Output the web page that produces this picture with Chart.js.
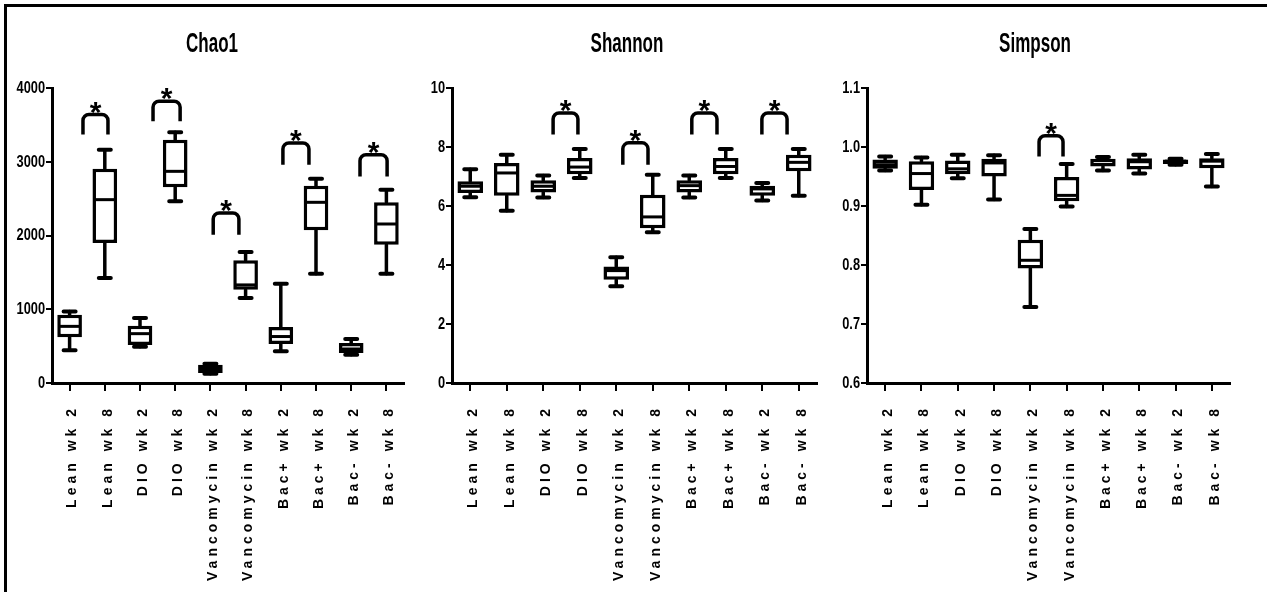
<!DOCTYPE html>
<html>
<head>
<meta charset="utf-8">
<script src="https://cdn.jsdelivr.net/npm/chart.js@4.4.1/dist/chart.umd.min.js"></script>
<style>
  html, body { margin: 0; padding: 0; background: #fff; overflow: hidden; }
  body { width: 1267px; height: 592px; position: relative; }
  #frame { position: absolute; left: 4px; top: 4px; right: -10px; bottom: -10px; border-top: 3px solid #000; border-left: 3px solid #000; }
  .panel { position: absolute; top: 8px; height: 584px; }
</style>
</head>
<body>
<div id="frame"></div>
<div class="panel" style="left:8px;width:400px"><canvas id="chao1"></canvas></div>
<div class="panel" style="left:420px;width:401px"><canvas id="shannon"></canvas></div>
<div class="panel" style="left:830px;width:404px"><canvas id="simpson"></canvas></div>
<script>
// groups on the x axis
const categories = ['Lean wk 2', 'Lean wk 8', 'DIO wk 2', 'DIO wk 8', 'Vancomycin wk 2', 'Vancomycin wk 8',
                    'Bac+ wk 2', 'Bac+ wk 8', 'Bac- wk 2', 'Bac- wk 8'];

// Chao1 box stats (min, q1, median, q3, max)
const chaoMin = [443, 1424, 490, 2463, 127, 1153, 429, 1482, 384, 1482];
const chaoQ1  = [619, 1898, 515, 2653, 136, 1266, 529, 2070, 407, 1876];
const chaoMed = [768, 2486, 669, 2870, 190, 1330, 630, 2450, 461, 2156];
const chaoQ3  = [927, 2906, 777, 3299, 249, 1663, 759, 2676, 542, 2450];
const chaoMax = [970, 3164, 881, 3399, 262, 1776, 1347, 2771, 597, 2621];
const chaoTicks = [0, 1000, 2000, 3000, 4000];

// Shannon
const shanMin = [6.30, 5.84, 6.29, 6.95, 3.28, 5.11, 6.29, 6.95, 6.19, 6.35];
const shanQ1  = [6.44, 6.35, 6.46, 7.08, 3.50, 5.25, 6.46, 7.08, 6.35, 7.18];
const shanMed = [6.67, 7.12, 6.67, 7.32, 3.81, 5.63, 6.69, 7.34, 6.58, 7.48];
const shanQ3  = [6.84, 7.46, 6.87, 7.63, 3.95, 6.38, 6.87, 7.63, 6.69, 7.74];
const shanMax = [7.25, 7.74, 7.03, 7.93, 4.26, 7.06, 7.03, 7.93, 6.78, 7.93];
const shanTicks = [0, 2, 4, 6, 8, 10];

// Simpson
const simpMin = [0.960, 0.902, 0.947, 0.911, 0.729, 0.899, 0.960, 0.955, 0.970, 0.933];
const simpQ1  = [0.963, 0.927, 0.954, 0.950, 0.794, 0.908, 0.967, 0.962, 0.971, 0.964];
const simpMed = [0.970, 0.955, 0.963, 0.973, 0.808, 0.918, 0.977, 0.975, 0.976, 0.976];
const simpQ3  = [0.979, 0.976, 0.977, 0.980, 0.843, 0.949, 0.980, 0.981, 0.979, 0.981];
const simpMax = [0.984, 0.982, 0.987, 0.986, 0.861, 0.971, 0.983, 0.987, 0.980, 0.988];
const simpTicks = [0.6, 0.7, 0.8, 0.9, 1.0, 1.1];

// significance brackets: from/to in category index, top/bottom in data units
const chaoBrFrom = [0.38, 2.37, 4.08, 6.06, 8.25];
const chaoBrTo   = [1.09, 3.14, 4.81, 6.80, 9.02];
const chaoBrTop  = [3640, 3820, 2305, 3255, 3095];
const chaoBrBot  = [3370, 3550, 2010, 2960, 2800];

const shanBrFrom = [2.27, 4.18, 6.07, 7.99];
const shanBrTo   = [2.95, 4.87, 6.76, 8.68];
const shanBrTop  = [9.15, 8.14, 9.15, 9.15];
const shanBrBot  = [8.42, 7.40, 8.42, 8.42];

const simpBrFrom = [4.24];
const simpBrTo   = [4.90];
const simpBrTop  = [1.019];
const simpBrBot  = [0.984];

const SANS = "'Liberation Sans', Arial, sans-serif";

// squeezed text, the original uses a condensed face
function narrowText(ctx, text, x, y, px, squeeze, align) {
    ctx.save();
    ctx.font = 'bold ' + px + 'px ' + SANS;
    ctx.textAlign = align;
    ctx.textBaseline = 'middle';
    ctx.translate(x, y);
    ctx.scale(squeeze, 1);
    ctx.fillText(text, 0, 0);
    ctx.restore();
}

const boxExtras = {
    id: 'boxExtras',
    afterDatasetsDraw(chart) {
        const { ctx, scales: { x, y } } = chart;
        const st = chart.options.plugins.boxExtras;
        const bars = chart.getDatasetMeta(0).data;
        ctx.save();
        ctx.strokeStyle = '#000';
        // whiskers, caps and median lines
        st.med.forEach((m, i) => {
            const cx = x.getPixelForValue(i);
            const half = bars[i].width / 2;
            ctx.lineCap = 'round';
            ctx.lineWidth = 3.5;
            ctx.beginPath();
            ctx.moveTo(cx, y.getPixelForValue(st.q3[i]));
            ctx.lineTo(cx, y.getPixelForValue(st.hi[i]));
            ctx.moveTo(cx, y.getPixelForValue(st.q1[i]));
            ctx.lineTo(cx, y.getPixelForValue(st.lo[i]));
            ctx.stroke();
            ctx.lineWidth = 4;
            ctx.beginPath();
            ctx.moveTo(cx - 6, y.getPixelForValue(st.hi[i]));
            ctx.lineTo(cx + 6, y.getPixelForValue(st.hi[i]));
            ctx.moveTo(cx - 6, y.getPixelForValue(st.lo[i]));
            ctx.lineTo(cx + 6, y.getPixelForValue(st.lo[i]));
            ctx.stroke();
            ctx.lineCap = 'butt';
            ctx.lineWidth = 3;
            ctx.beginPath();
            ctx.moveTo(cx - half + 2, y.getPixelForValue(m));
            ctx.lineTo(cx + half - 2, y.getPixelForValue(m));
            ctx.stroke();
        });

        // brackets with stars
        const br = st.brackets;
        ctx.lineWidth = 3.5;
        ctx.lineJoin = 'round';
        br.from.forEach((f, i) => {
            const xl = x.getPixelForValue(f), xr = x.getPixelForValue(br.to[i]);
            const yt = y.getPixelForValue(br.top[i]), yb = y.getPixelForValue(br.bot[i]);
            ctx.beginPath();
            ctx.moveTo(xl, yb);
            ctx.arcTo(xl, yt, xr, yt, 6);
            ctx.arcTo(xr, yt, xr, yb, 6);
            ctx.lineTo(xr, yb);
            ctx.stroke();
            ctx.fillStyle = '#000';
            ctx.font = 'bold 30px ' + SANS;
            ctx.textAlign = 'center';
            ctx.textBaseline = 'alphabetic';
            ctx.fillText('*', (xl + xr) / 2, yt + 7);
        });
        ctx.restore();
    },
    afterDraw(chart) {
        const { ctx, scales: { x, y } } = chart;
        const st = chart.options.plugins.boxExtras;
        ctx.save();
        ctx.fillStyle = '#000';

        // title
        narrowText(ctx, st.title, st.titleX, 37, 27, 0.63, 'center');

        // y tick labels
        st.ticks.forEach(v => {
            narrowText(ctx, v.toFixed(st.decimals), x.left - 7, y.getPixelForValue(v) + 0.5, 16, 0.8, 'right');
        });

        // spaced-out, vertical group names under the x axis
        ctx.font = 'bold 14px ' + SANS;
        ctx.letterSpacing = '4px';
        ctx.textAlign = 'right';
        ctx.textBaseline = 'middle';
        categories.forEach((c, i) => {
            ctx.save();
            ctx.translate(x.getPixelForValue(i) + 3, x.top + 22);
            ctx.rotate(-Math.PI / 2);
            ctx.fillText(c, 0, 0);
            ctx.restore();
        });
        ctx.restore();
    }
};

function makePanel(id, title, titleX, ticks, decimals, lo, q1, med, q3, hi, brackets, yWidth) {
    const ctx = document.getElementById(id).getContext('2d');
    return new Chart(ctx, {
        type: 'bar',
        data: {
            labels: categories,
            datasets: [{
                data: q1.map((v, i) => [v, q3[i]]),
                backgroundColor: '#fff',
                borderColor: '#000',
                borderWidth: 3.5,
                borderSkipped: false,
                barPercentage: 0.7,
                categoryPercentage: 1
            }]
        },
        plugins: [boxExtras],
        options: {
            responsive: true,
            maintainAspectRatio: false,
            animation: false,
            layout: { padding: { left: 0, right: 4, top: 80, bottom: 0 } },
            plugins: {
                legend: { display: false },
                tooltip: { enabled: false },
                title: { display: false },
                boxExtras: { lo, q1, med, q3, hi, brackets, title, titleX, ticks, decimals }
            },
            scales: {
                x: {
                    offset: true,
                    grid: { drawOnChartArea: false, drawTicks: true, tickLength: 8, lineWidth: 2, color: '#000', offset: false },
                    border: { display: true, color: '#000', width: 3 },
                    ticks: { display: false, autoSkip: false },
                    afterFit: s => { s.height = 209; }
                },
                y: {
                    min: ticks[0],
                    max: ticks[ticks.length - 1],
                    afterBuildTicks: s => { s.ticks = ticks.map(v => ({ value: v })); },
                    grid: { drawOnChartArea: false, drawTicks: true, tickLength: 6, lineWidth: 2, color: '#000' },
                    border: { display: true, color: '#000', width: 3 },
                    ticks: { display: false },
                    afterFit: s => { s.width = yWidth; }
                }
            }
        }
    });
}

makePanel('chao1', 'Chao1', 204, chaoTicks, 0, chaoMin, chaoQ1, chaoMed, chaoQ3, chaoMax,
    { from: chaoBrFrom, to: chaoBrTo, top: chaoBrTop, bot: chaoBrBot }, 44);
makePanel('shannon', 'Shannon', 207, shanTicks, 0, shanMin, shanQ1, shanMed, shanQ3, shanMax,
    { from: shanBrFrom, to: shanBrTo, top: shanBrTop, bot: shanBrBot }, 32);
makePanel('simpson', 'Simpson', 205, simpTicks, 1, simpMin, simpQ1, simpMed, simpQ3, simpMax,
    { from: simpBrFrom, to: simpBrTo, top: simpBrTop, bot: simpBrBot }, 37);
</script>
</body>
</html>
